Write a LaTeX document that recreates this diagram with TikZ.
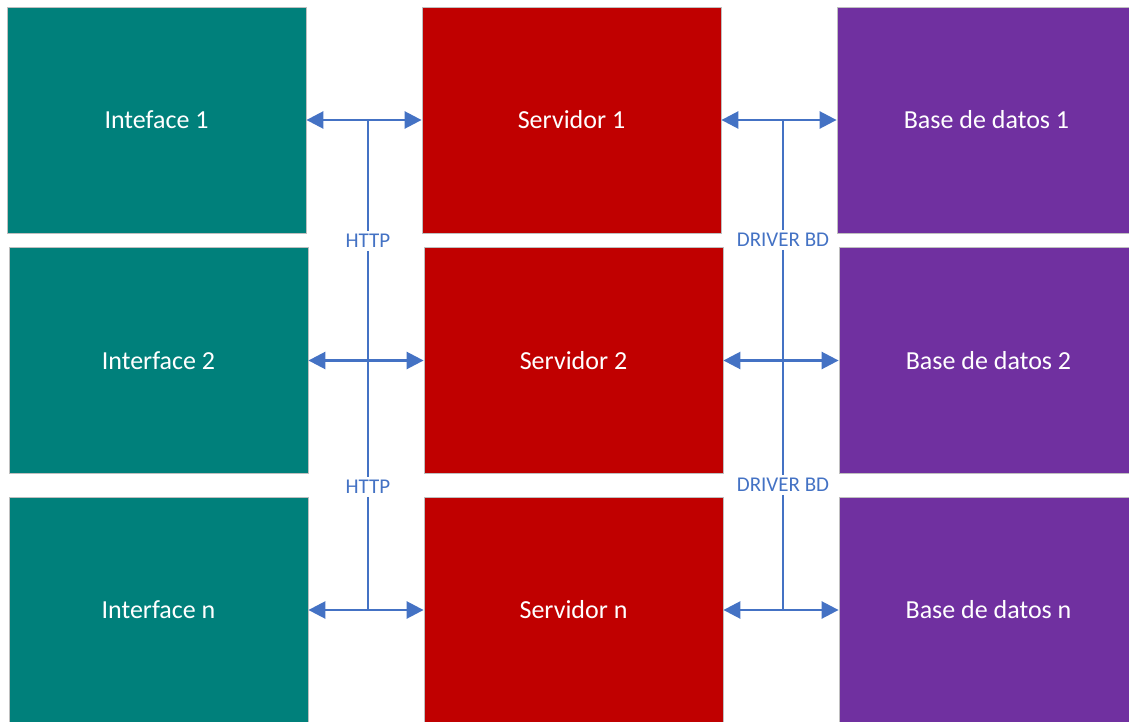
\documentclass[tikz,border=0pt]{standalone}
\usepackage{fontspec}
\setmainfont{Carlito}
\usetikzlibrary{arrows.meta}
\definecolor{tealbox}{RGB}{0,128,123}
\definecolor{redbox}{RGB}{192,0,0}
\definecolor{purplebox}{RGB}{112,48,160}
\definecolor{linkblue}{RGB}{68,114,196}
\begin{document}
\begin{tikzpicture}
[   x=1pt,y=-1pt,
    box/.style={draw=black!25,line width=0.8pt,fill=#1,text=white,minimum width=299pt,minimum height=226pt,inner sep=0pt,font=\fontsize{26}{30}\selectfont},
    link/.style={draw=linkblue,line width=2.6pt,{Triangle[length=17pt,width=17pt]}-{Triangle[length=17pt,width=17pt]}},
    wire/.style={draw=linkblue,line width=2.6pt},
    tag/.style={text=linkblue,inner sep=3pt,font=\fontsize{21}{24}\selectfont},
]
    \useasboundingbox (0,0) rectangle (1129,722);

    \foreach \i/\y/\dx/\n/\t in {1/120/0/1/Inteface 1,2/360.5/2/2/Interface 2,3/610/2/n/Interface n}
    {   \node[box=tealbox] (i-\i) at (156.5+\dx,\y) {\t};
        \node[box=redbox] (s-\i) at (571.5+\dx,\y) {Servidor \n};
        \node[box=purplebox] (b-\i) at (986.5+\dx,\y) {Base de datos \n};
        \draw[link] (i-\i.east) -- (s-\i.west);
        \draw[link] (s-\i.east) -- (b-\i.west);
        \coordinate (h-\i) at (368,\y);
        \coordinate (d-\i) at (783,\y);
    }

    % labels on the shared lines
    \node[tag] (http-1) at (368,241) {HTTP};
    \node[tag] (http-2) at (368,487) {HTTP};
    \node[tag] (drv-1) at (783,240) {DRIVER BD};
    \node[tag] (drv-2) at (783,485) {DRIVER BD};

    \draw[wire] (h-1) -- (http-1) -- (h-2) -- (http-2) -- (h-3);
    \draw[wire] (d-1) -- (drv-1) -- (d-2) -- (drv-2) -- (d-3);
\end{tikzpicture}
\end{document}
